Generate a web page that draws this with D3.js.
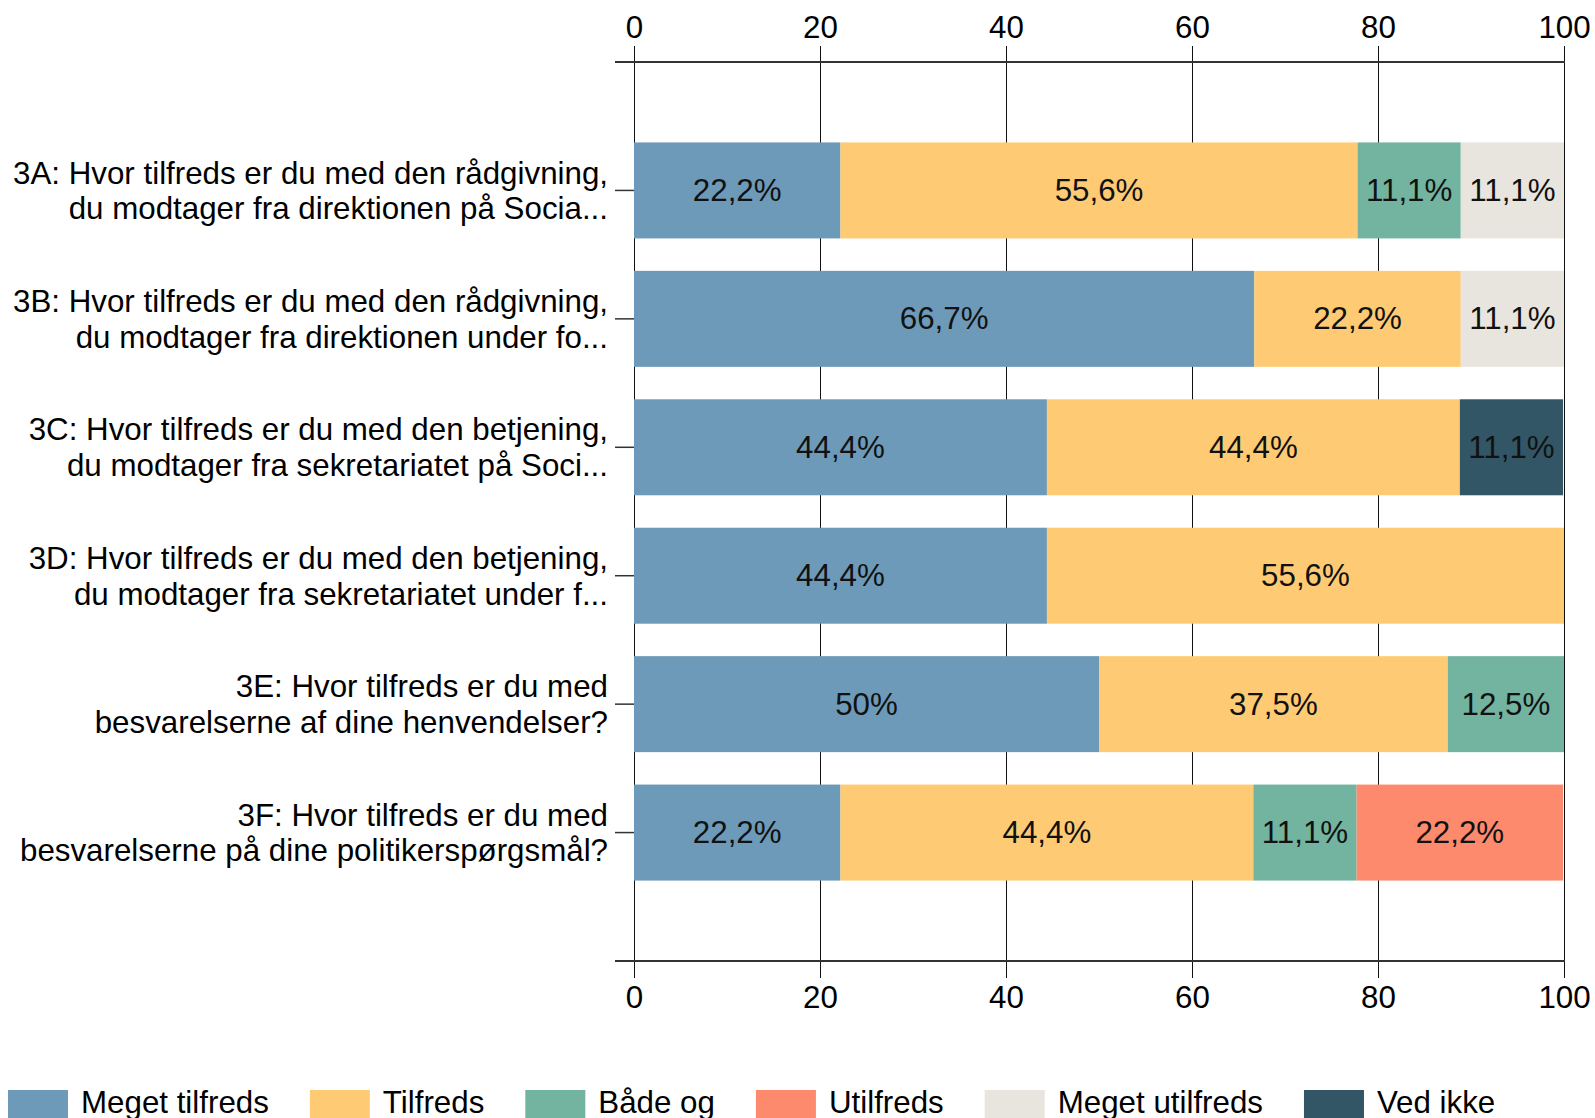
<!DOCTYPE html>
<html><head><meta charset="utf-8">
<script src="https://cdn.jsdelivr.net/npm/d3@7"></script>
<style>
html,body{margin:0;padding:0;background:#fff;}
svg text{font-family:"Liberation Sans",Arial,sans-serif;}
</style></head>
<body>
<svg id="chart" width="1595" height="1118"></svg>
<script>
const categories = [
  ["3A: Hvor tilfreds er du med den rådgivning,", "du modtager fra direktionen på Socia..."],
  ["3B: Hvor tilfreds er du med den rådgivning,", "du modtager fra direktionen under fo..."],
  ["3C: Hvor tilfreds er du med den betjening,", "du modtager fra sekretariatet på Soci..."],
  ["3D: Hvor tilfreds er du med den betjening,", "du modtager fra sekretariatet under f..."],
  ["3E: Hvor tilfreds er du med", "besvarelserne af dine henvendelser?"],
  ["3F: Hvor tilfreds er du med", "besvarelserne på dine politikerspørgsmål?"]
];
const seriesNames = ["Meget tilfreds", "Tilfreds", "Både og", "Utilfreds", "Meget utilfreds", "Ved ikke"];
const seriesColors = ["#6d9ab8", "#fecb74", "#72b4a0", "#fe8a6e", "#e8e5de", "#325666"];
const megetTilfreds = [22.2, 66.7, 44.4, 44.4, 50, 22.2];
const tilfreds      = [55.6, 22.2, 44.4, 55.6, 37.5, 44.4];
const badeOg        = [11.1, 0, 0, 0, 12.5, 11.1];
const utilfreds     = [0, 0, 0, 0, 0, 22.2];
const megetUtilfreds= [11.1, 11.1, 0, 0, 0, 0];
const vedIkke       = [0, 0, 11.1, 0, 0, 0];
const xTicks = [0, 20, 40, 60, 80, 100];

const seriesValues = [megetTilfreds, tilfreds, badeOg, utilfreds, megetUtilfreds, vedIkke];

const svg = d3.select("#chart");
const FS = 31.3;
const x = d3.scaleLinear().domain([0, 100]).range([634, 1564]);
const y = d3.scalePoint().domain(d3.range(categories.length)).range([62, 961]).padding(1);
const barH = 96;
const yTop = 62, yBot = 961;
const px = v => Math.round(v) + 0.5;

// gridlines with tick extensions
svg.append("g").selectAll("line").data(xTicks).join("line")
  .attr("x1", d => px(x(d))).attr("x2", d => px(x(d)))
  .attr("y1", yTop - 16).attr("y2", yBot + 17)
  .attr("stroke", "#111").attr("stroke-width", 1);

// axes lines
[yTop, yBot].forEach(yy => {
  svg.append("line").attr("x1", 615).attr("x2", px(x(100)) + 0.5).attr("y1", yy).attr("y2", yy)
    .attr("stroke", "#333").attr("stroke-width", 2);
});

// tick labels
const topAxis = d3.axisTop(x).tickValues(xTicks).tickSize(0).tickPadding(0);
const gTop = svg.append("g").attr("transform", `translate(0,${yTop})`).call(topAxis);
gTop.select(".domain").remove();
gTop.selectAll("text").attr("y", 0).attr("dy", null).attr("font-size", FS)
  .attr("font-family", "Liberation Sans, Arial, sans-serif").attr("fill", "#000")
  .attr("transform", `translate(0,${27.5 - yTop})`).attr("dominant-baseline", "central");
const botAxis = d3.axisBottom(x).tickValues(xTicks).tickSize(0).tickPadding(0);
const gBot = svg.append("g").attr("transform", `translate(0,${yBot})`).call(botAxis);
gBot.select(".domain").remove();
gBot.selectAll("text").attr("y", 0).attr("dy", null).attr("font-size", FS)
  .attr("font-family", "Liberation Sans, Arial, sans-serif").attr("fill", "#000")
  .attr("transform", `translate(0,${997 - yBot})`).attr("dominant-baseline", "central");

// left ticks
svg.append("g").selectAll("line").data(d3.range(categories.length)).join("line")
  .attr("x1", 615).attr("x2", x(0)).attr("y1", d => y(d)).attr("y2", d => y(d))
  .attr("stroke", "#333").attr("stroke-width", 1.5);

// stacked data
const segs = [];
categories.forEach((c, i) => {
  let acc = 0;
  seriesValues.forEach((vals, s) => {
    const v = vals[i];
    if (v > 0) segs.push({i, s, x0: acc, x1: acc + v, v});
    acc += v;
  });
});
const fmt = v => (Number.isInteger(v) ? String(v) : v.toFixed(1).replace(".", ",")) + "%";

svg.append("g").selectAll("rect").data(segs).join("rect")
  .attr("x", d => x(d.x0)).attr("width", d => x(d.x1) - x(d.x0))
  .attr("y", d => y(d.i) - barH / 2).attr("height", barH)
  .attr("fill", d => seriesColors[d.s]);

svg.append("g").selectAll("text").data(segs).join("text")
  .attr("x", d => (x(d.x0) + x(d.x1)) / 2).attr("y", d => y(d.i))
  .attr("text-anchor", "middle").attr("dominant-baseline", "central")
  .attr("font-size", FS).attr("fill", "#111").text(d => fmt(d.v));

// category labels
const lab = svg.append("g").selectAll("text").data(categories).join("text")
  .attr("text-anchor", "end").attr("font-size", FS).attr("fill", "#000")
  .attr("dominant-baseline", "central");
lab.each(function(c, i) {
  const t = d3.select(this);
  c.forEach((line, k) => {
    t.append("tspan").attr("x", 608).attr("y", y(i) + (k === 0 ? -17.8 : 17.8)).text(line);
  });
});

// legend
let lx = 8;
seriesNames.forEach((n, s) => {
  svg.append("rect").attr("x", lx).attr("y", 1090).attr("width", 60).attr("height", 28)
    .attr("fill", seriesColors[s]);
  const t = svg.append("text").attr("x", lx + 73).attr("y", 1102)
    .attr("dominant-baseline", "central").attr("font-size", FS).attr("fill", "#000").text(n);
  lx = lx + 73 + t.node().getComputedTextLength() + 41;
});
</script>
</body></html>
